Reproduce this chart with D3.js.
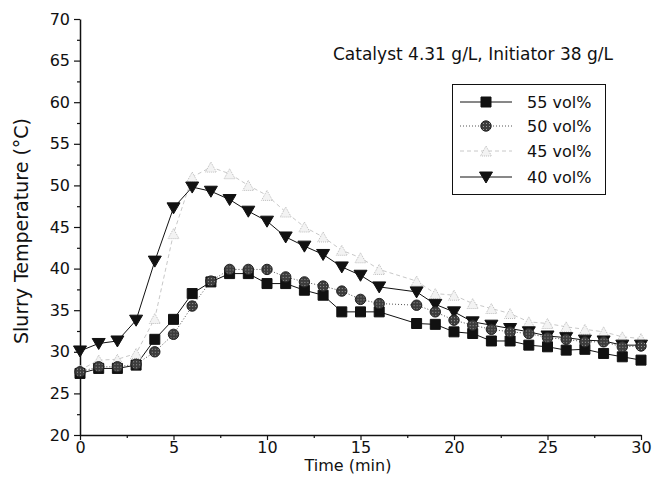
<!DOCTYPE html>
<html>
<head>
<meta charset="utf-8">
<script src="https://cdn.jsdelivr.net/npm/d3@7"></script>
<style>
  body { margin: 0; background: #fff; }
  svg { display: block; }
  text { font-family: "DejaVu Sans", sans-serif; fill: #111; }
</style>
</head>
<body>
<div id="chart"></div>
<script>
// time points (min) - no reading at 17
const times = [0,1,2,3,4,5,6,7,8,9,10,11,12,13,14,15,16,18,19,20,21,22,23,24,25,26,27,28,29,30];

const vol55 = [27.4,28.0,28.0,28.4,31.5,33.9,37.0,38.4,39.4,39.4,38.2,38.2,37.4,36.8,34.8,34.8,34.8,33.4,33.3,32.4,32.2,31.3,31.3,30.8,30.6,30.2,30.3,29.8,29.4,29.0];
const vol50 = [27.6,28.2,28.2,28.5,30.0,32.1,35.5,38.5,39.9,39.9,39.9,39.0,38.4,37.9,37.3,36.3,35.8,35.6,34.8,33.8,33.2,32.7,32.4,32.2,31.7,31.5,31.2,31.2,30.6,30.7];
const vol45 = [27.8,29.0,29.1,29.8,34.0,44.2,51.0,52.2,51.4,50.0,48.8,46.8,45.0,43.8,42.2,41.3,39.9,38.5,37.0,36.8,35.8,35.2,34.6,33.6,33.4,33.0,32.7,32.4,31.8,31.6];
const vol40 = [30.1,31.0,31.3,33.8,40.9,47.3,49.8,49.3,48.3,46.9,45.7,43.8,42.7,41.7,40.2,39.2,37.8,37.2,35.7,34.8,33.6,33.2,32.8,32.4,31.9,31.7,31.4,31.3,30.8,30.8];

const seriesNames = ["55 vol%", "50 vol%", "45 vol%", "40 vol%"];
const xTicks = [0,5,10,15,20,25,30];
const yTicks = [20,25,30,35,40,45,50,55,60,65,70];

const W = 654, H = 486;
const margin = {left: 80, right: 13, top: 19, bottom: 51};

const svg = d3.select("#chart").append("svg")
    .attr("width", W).attr("height", H);

// hatched fill for the 50 vol% circles
const defs = svg.append("defs");
const pat = defs.append("pattern").attr("id", "hatch")
    .attr("width", 3).attr("height", 3).attr("patternUnits", "userSpaceOnUse");
pat.append("rect").attr("width", 3).attr("height", 3).attr("fill", "#3c3c3c");
pat.append("rect").attr("width", 1).attr("height", 1).attr("fill", "#9a9a9a");

const x = d3.scaleLinear().domain([0, 30]).range([margin.left, W - margin.right]);
const y = d3.scaleLinear().domain([20, 70]).range([H - margin.bottom, margin.top]);

// marker shapes
const shapes = {
    square: "M-5,-5H5V5H-5Z",
    circle: d3.symbol(d3.symbolCircle, 85)(),
    up: "M0,-5L5.5,5L-5.5,5Z",
    down: "M-6.5,-5H6.5L0,6Z"
};

const series = [
    {name: seriesNames[0], values: vol55, shape: "square", fill: "#111", stroke: "#111", line: "#111", dash: null, lw: 1},
    {name: seriesNames[1], values: vol50, shape: "circle", fill: "url(#hatch)", stroke: "#222", line: "#555", dash: "1,2", lw: 1},
    {name: seriesNames[2], values: vol45, shape: "up", fill: "#f3f3f3", stroke: "#bdbdbd", line: "#c8c8c8", dash: "4,3", lw: 1, mdash: "1,1"},
    {name: seriesNames[3], values: vol40, shape: "down", fill: "#111", stroke: "#111", line: "#111", dash: null, lw: 1}
];

// axes
svg.append("g")
    .attr("transform", `translate(0,${y(20)})`)
    .call(d3.axisBottom(x).tickValues(xTicks).tickSize(5).tickPadding(2).tickSizeOuter(0));
svg.append("g")
    .attr("transform", `translate(0,${y(20)})`)
    .call(d3.axisBottom(x).tickValues(d3.range(2.5, 30, 5)).tickSize(3).tickFormat(""))
    .call(g => g.select(".domain").remove());

svg.append("g")
    .attr("transform", `translate(${x(0)},0)`)
    .call(d3.axisLeft(y).tickValues(yTicks).tickSize(6).tickPadding(4).tickSizeOuter(0));
svg.append("g")
    .attr("transform", `translate(${x(0)},0)`)
    .call(d3.axisLeft(y).tickValues(d3.range(22.5, 70, 5)).tickSize(3).tickFormat(""))
    .call(g => g.select(".domain").remove());

svg.selectAll(".domain").attr("stroke", "#111").attr("stroke-width", 1.5);
svg.selectAll(".tick line").attr("stroke", "#111").attr("stroke-width", 1.2);
svg.selectAll(".tick text").attr("font-size", 16).attr("fill", "#111")
    .style("font-family", "DejaVu Sans, sans-serif");

// axis titles
svg.append("text")
    .attr("x", 348).attr("y", 471)
    .attr("text-anchor", "middle").attr("font-size", 16)
    .text("Time (min)");

svg.append("text")
    .attr("transform", `translate(28,${(y(20) + y(70)) / 2 + 4}) rotate(-90)`)
    .attr("text-anchor", "middle").attr("font-size", 19)
    .text("Slurry Temperature (°C)");

svg.append("text")
    .attr("x", 333).attr("y", 60).attr("font-size", 17)
    .text("Catalyst 4.31 g/L, Initiator 38 g/L");

// lines and markers
const line = d3.line().x(d => x(d[0])).y(d => y(d[1]));

series.forEach(s => {
    const pts = times.map((t, i) => [t, s.values[i]]);
    svg.append("path")
        .datum(pts)
        .attr("d", line)
        .attr("fill", "none")
        .attr("stroke", s.line)
        .attr("stroke-width", s.lw)
        .attr("stroke-dasharray", s.dash);
    s.pts = pts;
});

// markers on top of all lines: 45, 40, 55, then 50
[2, 3, 0, 1].forEach(k => {
    const s = series[k];
    svg.append("g").selectAll("path")
        .data(s.pts)
        .join("path")
        .attr("transform", d => `translate(${x(d[0])},${y(d[1])})`)
        .attr("d", shapes[s.shape])
        .attr("fill", s.fill)
        .attr("stroke", s.stroke)
        .attr("stroke-width", 1)
        .attr("stroke-dasharray", s.mdash || null);
});

// legend
const legend = svg.append("g");
legend.append("rect")
    .attr("x", 452.5).attr("y", 84.5).attr("width", 153).attr("height", 110)
    .attr("fill", "#fff").attr("stroke", "#111").attr("stroke-width", 1);

const rowY = [102, 126, 151, 177];
series.forEach((s, i) => {
    const yy = rowY[i];
    legend.append("line")
        .attr("x1", 460).attr("x2", 512).attr("y1", yy).attr("y2", yy)
        .attr("stroke", s.line).attr("stroke-width", s.lw)
        .attr("stroke-dasharray", s.dash);
    legend.append("path")
        .attr("transform", `translate(486,${yy})`)
        .attr("d", shapes[s.shape])
        .attr("fill", s.fill).attr("stroke", s.stroke)
        .attr("stroke-dasharray", s.mdash || null);
    legend.append("text")
        .attr("x", 527).attr("y", yy + 6).attr("font-size", 16)
        .text(s.name);
});
</script>
</body>
</html>
